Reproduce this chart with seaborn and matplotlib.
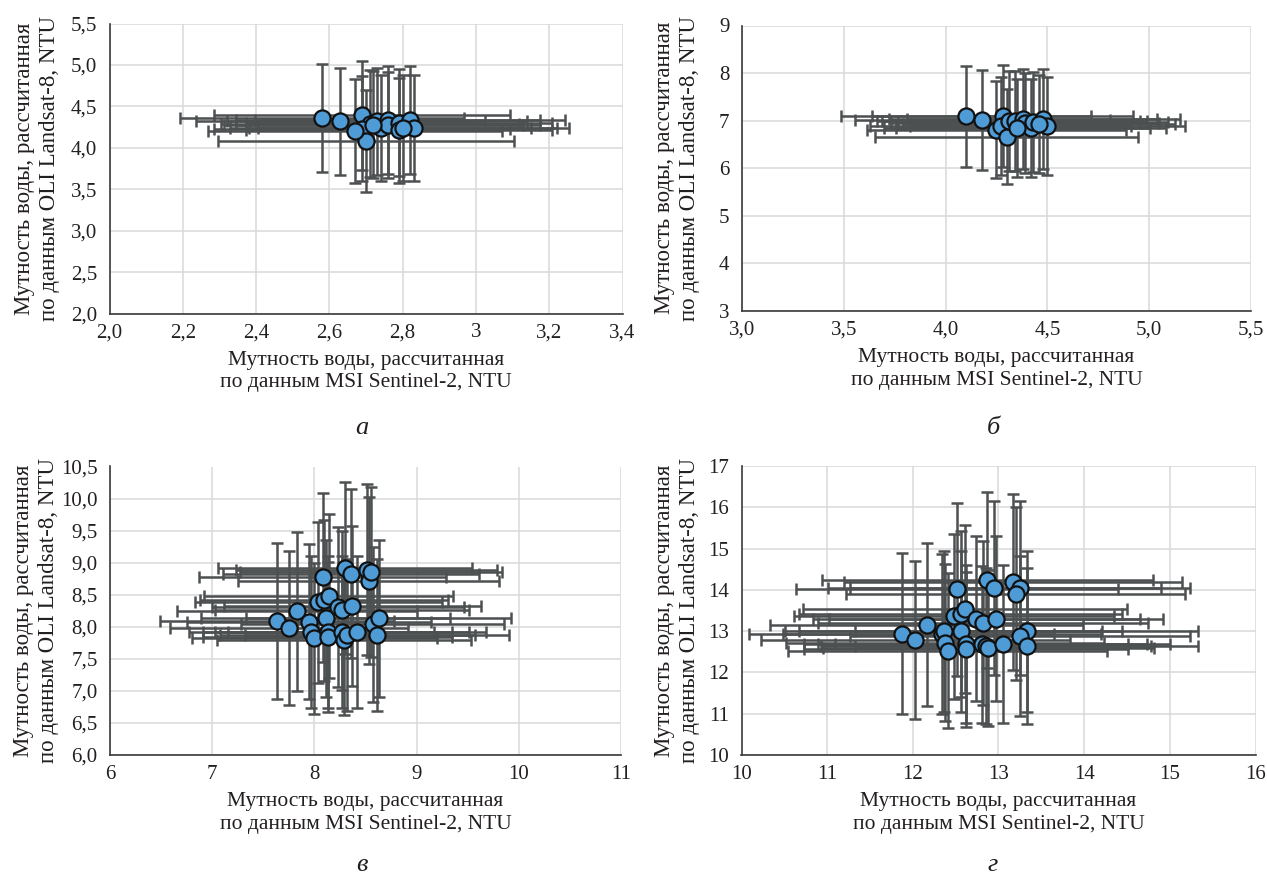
import numpy as np
import pandas as pd
import matplotlib
matplotlib.use("Agg")
import matplotlib.pyplot as plt
import seaborn as sns

# ---------------- data ----------------
A_x = [2.58, 2.63, 2.69, 2.71, 2.69, 2.70, 2.73, 2.74, 2.76, 2.76, 2.79, 2.79, 2.82, 2.83, 2.67, 2.80, 2.72]
A_y = [4.36, 4.32, 4.39, 4.29, 4.23, 4.08, 4.32, 4.24, 4.34, 4.27, 4.30, 4.21, 4.34, 4.24, 4.20, 4.24, 4.28]

B_x = [4.10, 4.18, 4.28, 4.25, 4.27, 4.30, 4.31, 4.34, 4.38, 4.39, 4.42, 4.43, 4.48, 4.50, 4.35, 4.46]
B_y = [7.09, 7.02, 7.10, 6.81, 6.88, 6.66, 6.99, 6.99, 7.03, 6.95, 6.85, 6.97, 7.03, 6.88, 6.85, 6.93]

C_x = [7.63, 7.75, 7.83, 7.95, 7.97, 8.00, 8.08, 8.04, 8.09, 8.14, 8.11, 8.13, 8.13, 8.23,
       8.27, 8.30, 8.36, 8.37, 8.27, 8.29, 8.32, 8.42, 8.51, 8.53, 8.57, 8.63, 8.61, 8.55]
C_y = [8.09, 7.98, 8.24, 8.08, 7.92, 7.82, 8.77, 8.38, 8.41, 8.48, 8.13, 7.92, 7.84, 8.31,
       8.26, 8.92, 8.83, 8.32, 7.92, 7.80, 7.87, 7.92, 8.89, 8.72, 8.04, 8.13, 7.87, 8.85]

D_x = [11.87, 12.03, 12.16, 12.34, 12.36, 12.38, 12.41, 12.52, 12.48, 12.56, 12.61, 12.56, 12.62, 12.62, 12.74,
       12.82, 12.87, 12.95, 12.97, 12.81, 12.85, 12.88, 13.05, 13.17, 13.25, 13.20, 13.33, 13.25, 13.33]
D_y = [12.94, 12.78, 13.16, 12.92, 13.00, 12.72, 12.52, 14.01, 13.36, 13.42, 13.53, 13.00, 12.69, 12.56, 13.30,
       13.20, 14.23, 14.05, 13.30, 12.68, 12.64, 12.60, 12.69, 14.19, 14.05, 13.91, 13.00, 12.88, 12.64]

ERR_PCT = 0.15  # percentage error bars (15 %) on both axes

A_xticks = [2.0, 2.2, 2.4, 2.6, 2.8, 3.0, 3.2, 3.4]
A_xlabels = ["2,0", "2,2", "2,4", "2,6", "2,8", "3", "3,2", "3,4"]
A_yticks = [2.0, 2.5, 3.0, 3.5, 4.0, 4.5, 5.0, 5.5]
A_ylabels = ["2,0", "2,5", "3,0", "3,5", "4,0", "4,5", "5,0", "5,5"]

B_xticks = [3.0, 3.5, 4.0, 4.5, 5.0, 5.5]
B_xlabels = ["3,0", "3,5", "4,0", "4,5", "5,0", "5,5"]
B_yticks = [3, 4, 5, 6, 7, 8, 9]
B_ylabels = ["3", "4", "5", "6", "7", "8", "9"]

C_xticks = [6, 7, 8, 9, 10, 11]
C_xlabels = ["6", "7", "8", "9", "10", "11"]
C_yticks = [6.0, 6.5, 7.0, 7.5, 8.0, 8.5, 9.0, 9.5, 10.0, 10.5]
C_ylabels = ["6,0", "6,5", "7,0", "7,5", "8,0", "8,5", "9,0", "9,5", "10,0", "10,5"]

D_xticks = [10, 11, 12, 13, 14, 15, 16]
D_xlabels = ["10", "11", "12", "13", "14", "15", "16"]
D_yticks = [10, 11, 12, 13, 14, 15, 16, 17]
D_ylabels = ["10", "11", "12", "13", "14", "15", "16", "17"]

XLABEL = "Мутность воды, рассчитанная\nпо данным MSI Sentinel-2, NTU"
YLABEL = "Мутность воды, рассчитанная\nпо данным OLI Landsat-8, NTU"
LETTERS = ["а", "б", "в", "г"]

# ---------------- style ----------------
sns.set_theme(style="white")
plt.rcParams["font.family"] = ["Liberation Serif", "DejaVu Serif"]

W, H = 1267, 875
fig = plt.figure(figsize=(W / 100, H / 100), dpi=100)

def frac(l, r, t, b):
    return [l / W, 1 - b / H, (r - l) / W, (b - t) / H]

boxes = [frac(109.5, 622.5, 23.5, 313.5),
         frac(742, 1251, 25.5, 311),
         frac(110, 621, 466.5, 755),
         frac(741.5, 1255.5, 466, 755)]

panels = [
    (A_x, A_y, A_xticks, A_xlabels, A_yticks, A_ylabels),
    (B_x, B_y, B_xticks, B_xlabels, B_yticks, B_ylabels),
    (C_x, C_y, C_xticks, C_xlabels, C_yticks, C_ylabels),
    (D_x, D_y, D_xticks, D_xlabels, D_yticks, D_ylabels),
]

letter_pos = [(362, 434), (993, 434), (362, 871), (993, 871)]
ylabel_x = [37, 677, 36, 677]

BAR_COLOR = "#4d5051"
DOT_COLOR = "#4e9bd6"
FS = 15.5
TXT = "#231f20"

for i, (box, (xs, ys, xt, xl, yt, yl)) in enumerate(zip(boxes, panels)):
    ax = fig.add_axes(box)
    df = pd.DataFrame({"x": xs, "y": ys})
    ax.errorbar(df["x"], df["y"], xerr=ERR_PCT * df["x"], yerr=ERR_PCT * df["y"],
                fmt="none", ecolor=BAR_COLOR, elinewidth=1.8, capsize=4,
                capthick=1.8, zorder=2)
    sns.scatterplot(data=df, x="x", y="y", ax=ax, s=135, color=DOT_COLOR,
                    edgecolor="#111111", linewidth=1.6, zorder=3)
    ax.set_xlim(xt[0], xt[-1])
    ax.set_ylim(yt[0], yt[-1])
    ax.set_xticks(xt)
    ax.set_xticklabels(xl)
    ax.set_yticks(yt)
    ax.set_yticklabels(yl)
    ax.tick_params(axis="both", length=0, labelsize=15, colors=TXT)
    ax.tick_params(axis="x", pad=7)
    ax.tick_params(axis="y", pad=9)
    ax.grid(True, color="#d9d9d9", linewidth=1.1, zorder=0)
    ax.set_axisbelow(True)
    for s in ["top", "right"]:
        ax.spines[s].set_visible(False)
    for s in ["left", "bottom"]:
        ax.spines[s].set_color("#3a3a3a")
        ax.spines[s].set_linewidth(1.2)
    ax.set_xlabel(XLABEL, fontsize=FS, color=TXT, labelpad=6, linespacing=1.25)
    ax.set_ylabel("")
    cy = (box[1] + box[3] / 2)
    fig.text(ylabel_x[i] / W, cy, YLABEL, rotation=90, ha="center", va="center",
             fontsize=16.5, color=TXT, linespacing=1.2)
    lx, ly = letter_pos[i]
    fig.text(lx / W, 1 - ly / H, LETTERS[i], ha="center", va="baseline",
             fontsize=19, style="italic", color=TXT)

fig.savefig("out.png", dpi=100)
